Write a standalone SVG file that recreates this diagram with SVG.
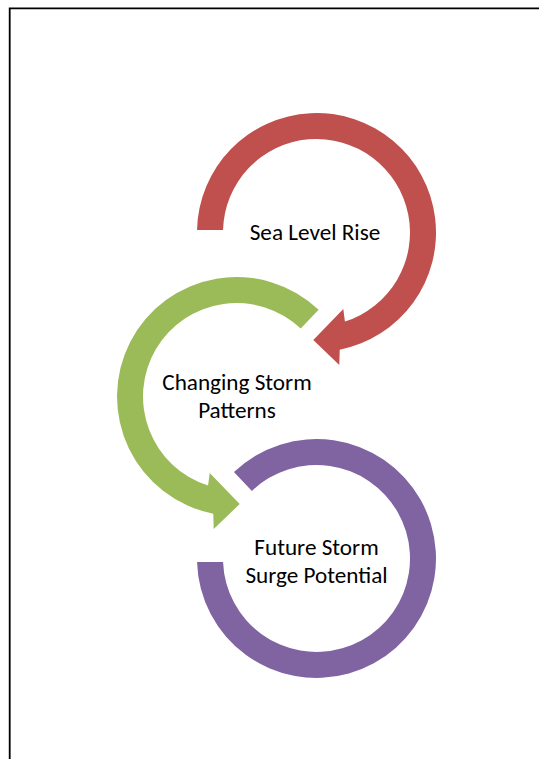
<svg xmlns="http://www.w3.org/2000/svg" width="539" height="759" viewBox="0 0 539 759">
<style>
.lbl{font-family:Carlito,Lato,"Liberation Sans",sans-serif;font-size:23.2px;fill:#000;text-anchor:middle}
.red{fill:#C0504D}.green{fill:#9BBB59}.purple{fill:#8064A2}
</style>
<rect width="539" height="759" fill="#fff"/>
<path d="M9.7 759 V8.3 H539" fill="none" stroke="#000" stroke-width="1.8"/>
<g id="connectors"></g>
<g id="node-sea-level-rise">
<path class="red" d="M197.03,230 A119.5,119.5 0 1 1 339.71,349.73 L339.3,365 L313.3,340 L343.3,309 L344.93,321.58 A93.5,93.5 0 1 0 223.03,230 Z"/>
<text class="lbl" x="315" y="240">Sea Level Rise</text>
</g>
<g id="node-changing-storm-patterns">
<path class="green" d="M318.61,309.67 A119.5,119.5 0 1 0 213.29,513.73 L213.7,529 L239.7,504 L209.7,473 L208.07,485.58 A93.5,93.5 0 1 1 300.74,328.56 Z"/>
<text class="lbl"><tspan x="237" y="389.6">Changing Storm</tspan><tspan x="237" y="417.7">Patterns</tspan></text>
</g>
<g id="node-future-storm-surge-potential">
<path class="purple" d="M233.94,472.10 A119.5,119.5 0 1 1 197.05,562 L223.07,562 A93.5,93.5 0 1 0 251.90,490.90 Z"/>
<text class="lbl"><tspan x="316.5" y="554.7">Future Storm</tspan><tspan x="316.5" y="582.8">Surge Potential</tspan></text>
</g>
</svg>
